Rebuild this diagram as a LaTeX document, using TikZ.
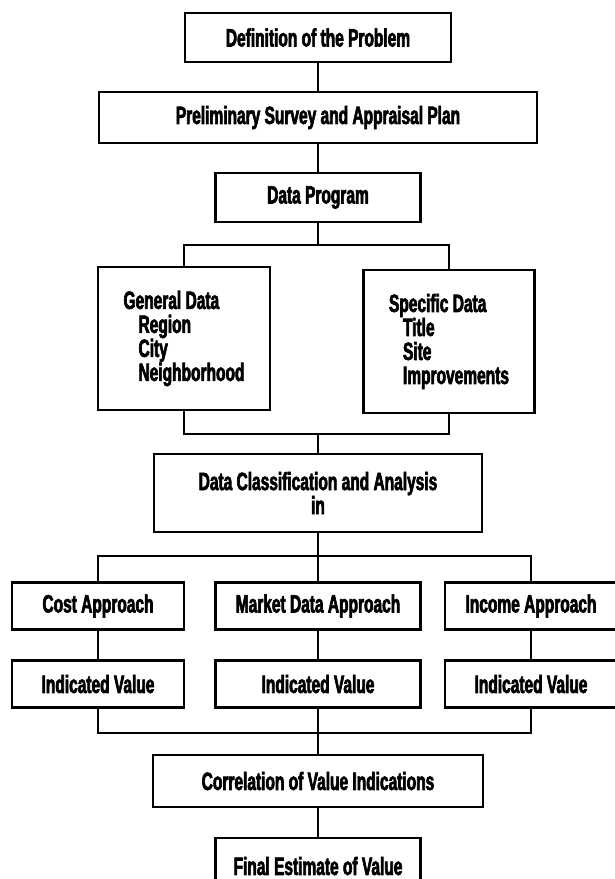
\documentclass[tikz,border=0pt]{standalone}
\usepackage{fontspec}
\newfontfamily\chartfont{Liberation Sans}[FakeStretch=0.62, BoldFeatures={FakeBold=2.5}]

\begin{document}
\begin{tikzpicture}[%
        x=1pt, y=-1pt,
        box/.style={draw, line width=2.8pt, inner sep=0pt,
            font=\chartfont\bfseries\fontsize{25}{24}\selectfont},
        link/.style={line width=1.8pt}
    ]
        \useasboundingbox (0,0) rectangle (614,879);

        % top column
        \node [box, minimum width=266, minimum height=49] (problem) at (318,37.5)
            {Definition of the Problem};
        \node [box, minimum width=438, minimum height=51] (survey) at (318,117.5)
            {Preliminary Survey and Appraisal Plan};
        \node [box, minimum width=205, minimum height=49] (program) at (318,197.5)
            {Data Program};

        % data boxes
        \node [box, minimum width=172, minimum height=143, align=left] (general) at (184,338.5)
            {General Data\\ \hspace*{15pt}Region\\ \hspace*{15pt}City\\ \hspace*{15pt}Neighborhood};
        \node [box, minimum width=171, minimum height=143, align=left] (specific) at (449,341.5)
            {Specific Data\\ \hspace*{14pt}Title\\ \hspace*{14pt}Site\\ \hspace*{14pt}Improvements};

        \node [box, minimum width=328, minimum height=78, align=center] (classify) at (318,493)
            {Data Classification and Analysis\\ in};

        % the three approaches
        \foreach \n/\x/\w/\t in
            {cost/98/172/Cost Approach, market/318/205/Market Data Approach,
             income/531/172/Income Approach}
        {
            \node [box, minimum width=\w, minimum height=47] (\n) at (\x,606) {\t};
            \node [box, minimum width=\w, minimum height=47] (\n val) at (\x,684) {Indicated Value};
            \draw [link] (\n) -- (\n val);
        }

        \node [box, minimum width=330, minimum height=52] (correlation) at (318,781)
            {Correlation of Value Indications};
        \node [box, minimum width=205, minimum height=56] (final) at (318,866)
            {Final Estimate of Value};

        % connectors
        \coordinate (split) at (318,245);
        \coordinate (join) at (318,434);
        \coordinate (fork) at (318,556);
        \coordinate (merge) at (318,733);

        \draw [link] (problem) -- (survey);
        \draw [link] (survey) -- (program);
        \draw [link] (program) -- (split);
        \draw [link] (general.north) |- (split) -| (specific.north);
        \draw [link] (general.south) |- (join) -| (specific.south);
        \draw [link] (join) -- (classify);
        \draw [link] (classify) -- (market);
        \draw [link] (cost.north) |- (fork) -| (income.north);
        \draw [link] (costval.south) |- (merge) -| (incomeval.south);
        \draw [link] (marketval) -- (correlation);
        \draw [link] (correlation) -- (final);
    \end{tikzpicture}
\end{document}
